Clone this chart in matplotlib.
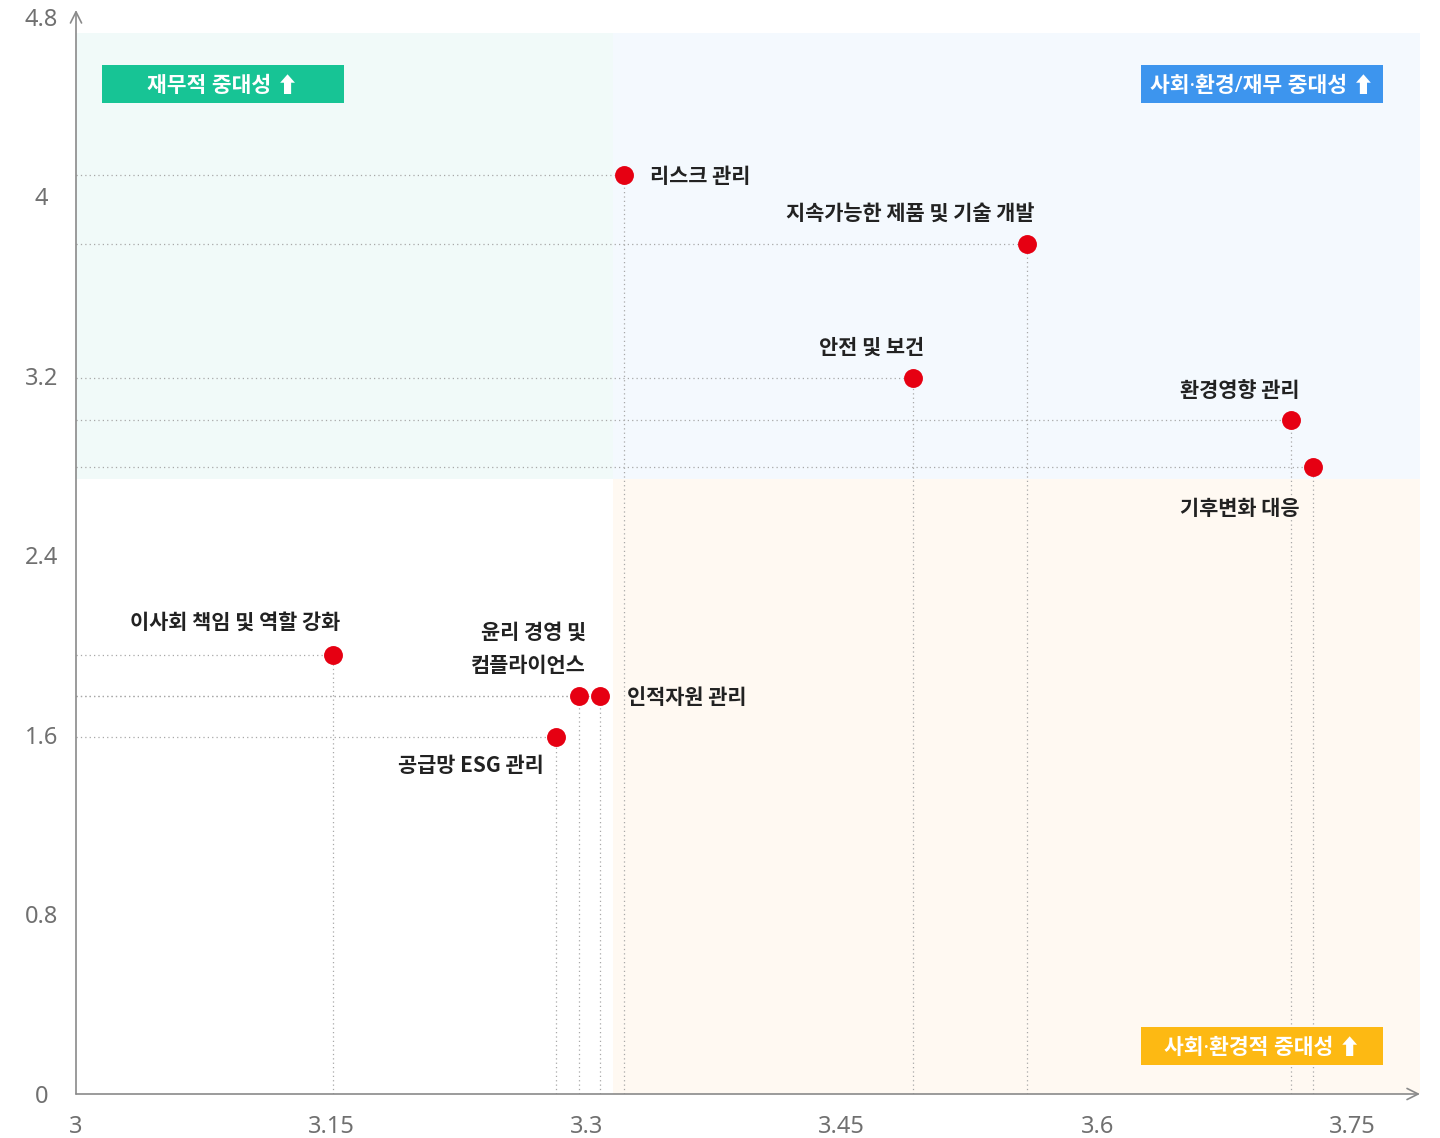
import matplotlib
matplotlib.use("Agg")
import matplotlib.pyplot as plt
from matplotlib.patches import Rectangle

FONTS = ["Noto Sans", "Noto Sans CJK KR", "DejaVu Sans"]
LABEL_FONTS = ["Noto Sans CJK KR", "DejaVu Sans"]
plt.rcParams["font.family"] = FONTS

# data
labels = [
    "리스크 관리",
    "지속가능한 제품 및 기술 개발",
    "안전 및 보건",
    "환경영향 관리",
    "기후변화 대응",
    "이사회 책임 및 역할 강화",
    "윤리 경영 및\n컴플라이언스",
    "인적자원 관리",
    "공급망 ESG 관리",
]
x_vals = [3.322, 3.559, 3.492, 3.714, 3.727, 3.151, 3.2955, 3.308, 3.282]
y_vals = [4.096, 3.788, 3.191, 3.004, 2.794, 1.956, 1.774, 1.774, 1.591]

x_ticks = [3, 3.15, 3.3, 3.45, 3.6, 3.75]
x_tick_labels = ["3", "3.15", "3.3", "3.45", "3.6", "3.75"]
y_ticks = [0, 0.8, 1.6, 2.4, 3.2, 4.0, 4.8]
y_tick_labels = ["0", "0.8", "1.6", "2.4", "3.2", "4", "4.8"]

x_split, y_split = 3.3155, 2.74
x_max, y_max = 3.7897, 4.831
bg_top = 4.728

quadrant_titles = ["재무적 중대성 ⬆", "사회·환경/재무 중대성 ⬆", "사회·환경적 중대성 ⬆"]

# label placement: (dx, dy) in pixels, ha
label_pos = [
    (26, -2, "left"),
    (-117, 31, "center"),
    (-42, 31, "center"),
    (-51, 29, "center"),
    (-74, -41, "center"),
    (-98, 33, "center"),
    (7, 47, "right"),
    (27, -2, "left"),
    (-12, -28, "right"),
]

fig = plt.figure(figsize=(14.4, 11.38), dpi=100)
ax = fig.add_axes([76 / 1440, 44 / 1138, 1344 / 1440, 1084 / 1138])
ax.set_xlim(3, x_max)
ax.set_ylim(0, y_max)

# quadrant backgrounds
ax.add_patch(Rectangle((3, y_split), x_split - 3, bg_top - y_split, color="#f1faf9", lw=0, zorder=0))
ax.add_patch(Rectangle((x_split, y_split), x_max - x_split, bg_top - y_split, color="#f4f9fe", lw=0, zorder=0))
ax.add_patch(Rectangle((x_split, 0), x_max - x_split, y_split, color="#fff9f2", lw=0, zorder=0))

# guide lines
for x, y in zip(x_vals, y_vals):
    ax.plot([3, x], [y, y], color="#a8a8a8", lw=0.9, ls=(0, (1, 2.5)), zorder=1)
    ax.plot([x, x], [0, y], color="#a8a8a8", lw=0.9, ls=(0, (1, 2.5)), zorder=1)

ax.scatter(x_vals, y_vals, s=185, color="#e60012", zorder=3, linewidths=0)

for lab, x, y, (dx, dy, ha) in zip(labels, x_vals, y_vals, label_pos):
    ax.annotate(lab, (x, y), xytext=(dx, dy), textcoords="offset pixels",
                ha=ha, va="center", fontsize=15, color="#222222", fontweight="bold",
                family=LABEL_FONTS, linespacing=1.75, zorder=4)

# quadrant title boxes (axes fraction)
box_w, box_h = 242 / 1344, 38 / 1084
boxes = [
    (26 / 1344, 991 / 1084, "#17c495"),
    (1065 / 1344, 991 / 1084, "#3d95ee"),
    (1065 / 1344, 29 / 1084, "#fdb913"),
]
for title, (bx, by, c) in zip(quadrant_titles, boxes):
    ax.add_patch(Rectangle((bx, by), box_w, box_h, transform=ax.transAxes,
                           color=c, lw=0, zorder=2))
    ax.text(bx + box_w / 2, by + box_h / 2 - 2 / 1084, title, transform=ax.transAxes,
            ha="center", va="center", color="white", fontsize=15.5,
            fontweight="bold", zorder=3)

# axes with arrows
for s in ax.spines.values():
    s.set_visible(False)
ax.annotate("", xy=(1, 0), xytext=(0, 0), xycoords="axes fraction",
            arrowprops=dict(arrowstyle="->,head_length=0.8,head_width=0.4",
                            color="#8a8a8a", lw=1.2, shrinkA=0, shrinkB=0))
ax.annotate("", xy=(0, 1), xytext=(0, 0), xycoords="axes fraction",
            arrowprops=dict(arrowstyle="->,head_length=0.8,head_width=0.4",
                            color="#8a8a8a", lw=1.2, shrinkA=0, shrinkB=0))

ax.set_xticks(x_ticks)
ax.set_xticklabels(x_tick_labels)
ax.set_yticks(y_ticks)
ax.set_yticklabels(y_tick_labels)
ax.tick_params(length=0, labelsize=17, labelcolor="#707070")
ax.tick_params(axis="x", pad=15)
ax.tick_params(axis="y", pad=25)
for t in ax.get_yticklabels():
    t.set_ha("center")
for t in ax.get_xticklabels() + ax.get_yticklabels():
    t.set_fontweight("medium")

fig.savefig("out.png", dpi=100)
